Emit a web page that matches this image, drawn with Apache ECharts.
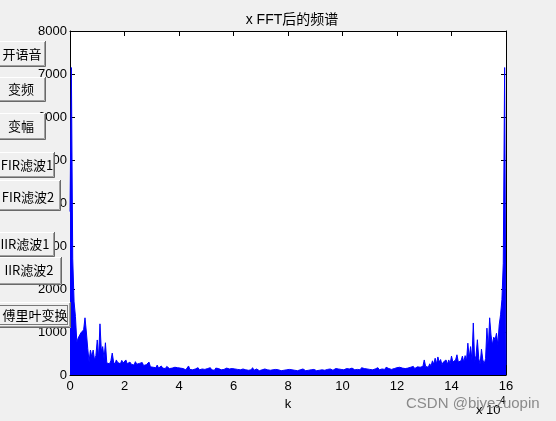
<!DOCTYPE html>
<html>
<head>
<meta charset="utf-8">
<script src="https://cdn.jsdelivr.net/npm/echarts@6/dist/echarts.min.js"></script>
<style>
html,body{margin:0;padding:0;background:#f0f0f0;}
#chart{width:556px;height:421px;}
</style>
</head>
<body>
<div id="chart"></div>
<script>
// Frequency axis (units of 10^4), sample spacing between plotted bins
const kStart = 0;
const kStep = 0.05;
const xTicks = [0, 2, 4, 6, 8, 10, 12, 14, 16];
const yTicks = [0, 1000, 2000, 3000, 4000, 5000, 6000, 7000, 8000];
const titleText = 'x FFT后的频谱';
const xName = 'k';
const buttonLabels = ['开语音', '变频', '变幅', 'FIR滤波1', 'FIR滤波2', 'IIR滤波1', 'IIR滤波2', '傅里叶变换'];

// |X(k)|, one value per kStep
const amp0 = [3800,7150,2700,1700,1360,760,860,820,980,1000,1050,1330,1000,620,310,580,420,580,350,450];
const amp1 = [815,400,1190,560,660,380,750,280,300,260,330,510,300,250,350,290,330,260,340,280];
const amp2 = [300,350,260,240,300,250,280,230,310,250,220,270,230,290,220,200,240,210,300,190];
const amp3 = [220,180,200,170,230,160,190,210,160,180,150,200,170,150,190,160,140,180,150,170];
const amp4 = [140,160,130,150,170,120,140,210,130,150,120,160,140,130,170,120,150,140,180,130];
const amp5 = [120,150,130,170,120,140,110,160,130,150,190,120,140,130,110,160,120,140,130,150];
const amp6 = [120,140,110,130,160,120,100,140,130,120,150,110,130,120,170,110,130,140,120,100];
const amp7 = [130,120,110,140,100,120,130,110,150,120,100,130,110,120,140,100,120,110,130,120];
const amp8 = [110,130,100,120,140,110,120,100,130,120,110,140,120,100,130,110,150,120,110,130];
const amp9 = [120,100,140,110,130,120,150,110,120,130,100,140,120,110,130,150,120,140,110,130];
const amp10 = [140,120,130,150,120,140,110,160,130,120,150,130,140,120,170,130,150,120,140,160];
const amp11 = [130,150,120,160,140,130,170,120,150,140,160,130,180,140,150,170,130,160,150,140];
const amp12 = [170,150,180,140,160,190,150,170,160,140,180,160,200,150,170,190,160,180,170,200];
const amp13 = [350,200,230,180,260,210,330,250,390,260,420,300,360,240,300,270,350,250,350,260];
const amp14 = [440,300,280,350,470,300,280,330,440,300,450,330,740,400,660,350,1210,310,450,820];
const amp15 = [380,250,600,350,260,380,1090,600,1330,930,700,880,820,970,700,1165,1400,1750,2600,7150];
const amp16 = [230];

const amplitude = [].concat(amp0,amp1,amp2,amp3,amp4,amp5,amp6,amp7,amp8,amp9,amp10,amp11,amp12,amp13,amp14,amp15,amp16);
const seriesData = amplitude.map((v, i) => [kStart + i * kStep, v]);

const FONT = '"Liberation Sans", "Noto Sans CJK SC", sans-serif';
const CJK = '"Noto Sans CJK SC", "Liberation Sans", sans-serif';

function button(x1, y1, x2, y2, label, cx, cy, focused) {
  const ch = [
    {type:'rect', shape:{x:x1, y:y1, width:x2-x1, height:y2-y1}, style:{fill:'#f0f0f0', stroke:null}, z:100},
    {type:'polyline', shape:{points:[[x1,y2-0.5],[x1,y1+0.5],[x2-0.5,y1+0.5]]}, style:{stroke:'#ffffff', lineWidth:1, fill:null}, z:101},
    {type:'polyline', shape:{points:[[x1+1,y2-1.5],[x2-1.5,y2-1.5],[x2-1.5,y1+1]]}, style:{stroke:'#a0a0a0', lineWidth:1, fill:null}, z:101},
    {type:'polyline', shape:{points:[[x1,y2-0.5],[x2-0.5,y2-0.5],[x2-0.5,y1]]}, style:{stroke:'#696969', lineWidth:1, fill:null}, z:101},
    {type:'text', x:cx, y:cy, style:{text:label, fill:'#000', font:'13px ' + CJK, textAlign:'center', textVerticalAlign:'middle'}, z:102}
  ];
  if (focused) {
    ch.push({type:'rect', shape:{x:x1+2.5, y:y1+3.5, width:x2-x1-6, height:y2-y1-7}, style:{fill:null, stroke:'#000', lineWidth:1, lineDash:[1,1]}, z:103});
  }
  return ch;
}

const btnGeom = [
  [-5,41,46,67,22,54],
  [-5,77,46,102,21,89],
  [-5,113,46,140,21,126],
  [-5,152,55,178,27,165],
  [-5,180,61,211,28,197],
  [-5,232,55,257,25,244],
  [-5,257,62,285,29,270],
  [-5,302,71,328,35,315]
];
let graphics = [];
btnGeom.forEach((g, i) => {
  graphics = graphics.concat(button(g[0], g[1], g[2], g[3], buttonLabels[i], g[4], g[5], i === 7));
});
graphics.push({type:'text', x:476, y:404, style:{text:'x 10', fill:'#000', font:'13px ' + FONT}, z:90});
graphics.push({type:'text', x:500, y:396, style:{text:'4', fill:'#000', font:'10px ' + FONT}, z:90});
graphics.push({type:'text', x:406, y:396, style:{text:'CSDN @biyezuopin', fill:'rgba(120,120,120,0.85)', font:'15px ' + FONT}, z:110});

function axisStyle() {
  return {
    axisLine:{show:true, onZero:false, lineStyle:{color:'#000', width:1}},
    axisTick:{show:true, inside:true, length:5, lineStyle:{color:'#000', width:1}},
    splitLine:{show:false}
  };
}
const plain = v => String(v);

const chart = echarts.init(document.getElementById('chart'), null, {renderer:'canvas'});
chart.setOption({
  animation:false,
  backgroundColor:'#f0f0f0',
  title:{text:titleText, left:287, top:8, textAlign:'center', textStyle:{fontSize:14, fontWeight:'normal', color:'#000', fontFamily:FONT}},
  grid:{left:70, right:50, top:31, bottom:46, show:true, backgroundColor:'#ffffff', borderWidth:0},
  xAxis:[
    Object.assign(axisStyle(), {type:'value', min:xTicks[0], max:xTicks[xTicks.length-1], interval:2, position:'bottom',
      name:xName, nameLocation:'middle', nameGap:21, nameTextStyle:{fontSize:13, color:'#000', fontFamily:FONT},
      axisLabel:{color:'#000', fontSize:13, margin:5, fontFamily:FONT, formatter:plain}}),
    Object.assign(axisStyle(), {type:'value', min:xTicks[0], max:xTicks[xTicks.length-1], interval:2, position:'top',
      axisLabel:{show:false}})
  ],
  yAxis:[
    Object.assign(axisStyle(), {type:'value', min:yTicks[0], max:yTicks[yTicks.length-1], interval:1000, position:'left',
      axisLabel:{color:'#000', fontSize:13, margin:3, fontFamily:FONT, formatter:plain}}),
    Object.assign(axisStyle(), {type:'value', min:yTicks[0], max:yTicks[yTicks.length-1], interval:1000, position:'right',
      axisLabel:{show:false}})
  ],
  series:[{
    type:'line', xAxisIndex:0, yAxisIndex:0, data:seriesData, showSymbol:false, symbol:'none',
    lineStyle:{color:'#0000ff', width:1},
    areaStyle:{color:'#0000ff', opacity:1},
    z:2
  }],
  graphic:graphics
});
</script>
</body>
</html>
